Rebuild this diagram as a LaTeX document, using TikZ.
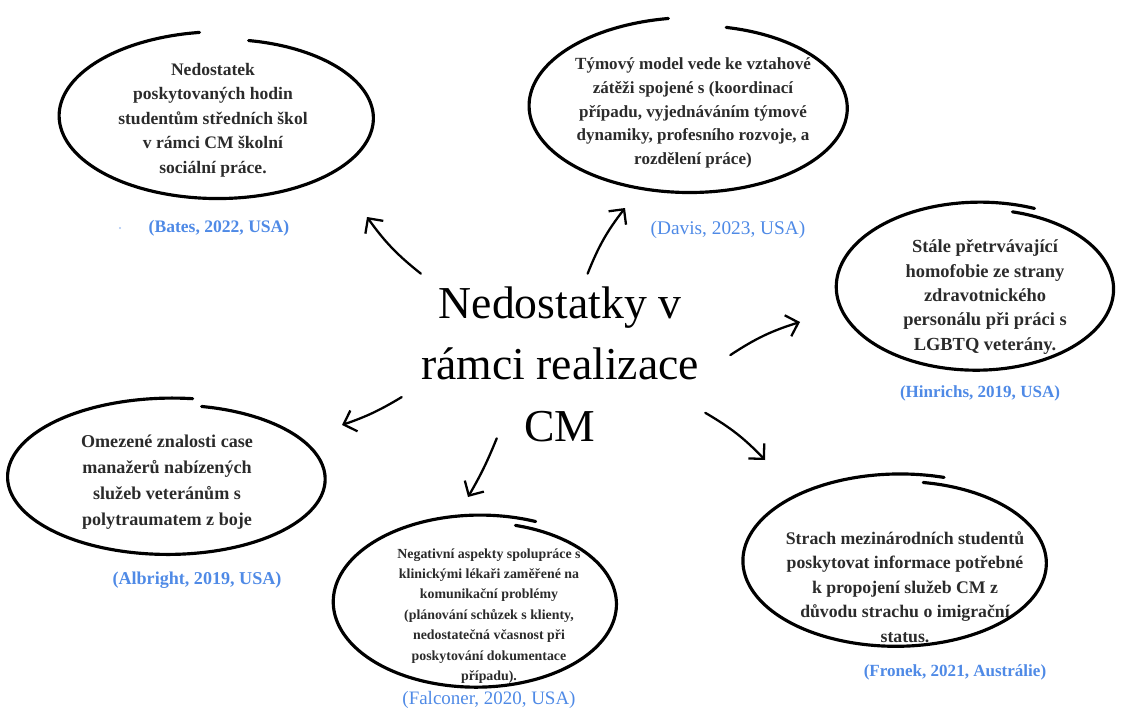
\documentclass[tikz,border=0pt]{standalone}
\usepackage{fontspec}
\setmainfont{Liberation Serif}
\usepackage{xcolor}
\usepackage{tikz}
\usetikzlibrary{arrows.meta, positioning, calc}
\definecolor{notegray}{HTML}{2B2B2B}
\definecolor{citeblue}{HTML}{4F8AE6}

% hand drawn open ellipse: center, rx, ry, start angle, sweep
\newcommand{\handloop}[5]{%
  \draw[sketch, shift={#1}] plot[smooth, samples=90, domain=0:1, variable=\u]
    ({#2*(0.95+0.09*\u)*cos(#4-#5*\u)}, {#3*(0.95+0.09*\u)*sin(#4-#5*\u)});
}

\begin{document}
\begin{tikzpicture}[
    x=0.02cm, y=0.02cm,
    topic/.style={rectangle, minimum width=6.8cm, minimum height=3.6cm, align=center, font=\fontsize{26}{35}\selectfont},
    note/.style={align=center, text=notegray, font=\fontsize{10}{13.9}\selectfont\bfseries},
    cite/.style={text=citeblue, font=\fontsize{10}{12}\selectfont\bfseries},
    citelight/.style={text=citeblue, font=\fontsize{11}{13}\selectfont},
    sketch/.style={line width=1.8pt, line cap=round, color=black},
    arrow/.style={-{Straight Barb[length=2.2mm, width=4.4mm]}, line width=1.3pt, line cap=round}
]
\useasboundingbox (0,0) rectangle (1125,711);

% Central topic
\node[topic] (cm) at (560,347) {Nedostatky v\\rámci realizace\\CM};

% Findings
\node[note] (bates) at (213,591) {Nedostatek\\poskytovaných hodin\\studentům středních škol\\v rámci CM školní\\sociální práce.};
\node[note, font=\fontsize{9.7}{13.6}\selectfont\bfseries] (davis) at (693,598) {Týmový model vede ke vztahové\\zátěži spojené s (koordinací\\případu, vyjednáváním týmové\\dynamiky, profesního rozvoje, a\\rozdělení práce)};
\node[note, font=\fontsize{10.5}{13.9}\selectfont\bfseries] (hinrichs) at (985,414) {Stále přetrvávající\\homofobie ze strany\\zdravotnického\\personálu při práci s\\LGBTQ veterány.};
\node[note, font=\fontsize{10.3}{14.7}\selectfont\bfseries] (albright) at (167,229) {Omezené znalosti case\\manažerů nabízených\\služeb veteránům s\\polytraumatem z boje};
\node[note, font=\fontsize{7.9}{11.6}\selectfont\bfseries] (falconer) at (489,95) {Negativní aspekty spolupráce s\\klinickými lékaři zaměřené na\\komunikační problémy\\(plánování schůzek s klienty,\\nedostatečná včasnost při\\poskytování dokumentace\\případu).};
\node[note, font=\fontsize{10.1}{13.9}\selectfont\bfseries] (fronek) at (905,124) {Strach mezinárodních studentů\\poskytovat informace potřebné\\k propojení služeb CM z\\důvodu strachu o imigrační\\status.};

% Loops round the findings
\handloop{(220,594)}{158}{82}{79}{342}
\handloop{(692,604)}{160}{86}{77}{339}
\handloop{(978,423)}{140}{83}{75}{368}
\handloop{(170,233)}{160}{77}{78}{356}
\handloop{(478,108)}{143}{85}{74}{367}
\handloop{(898,149)}{153}{85}{80}{367}

% Sources
\node[cite] (batesref) at (219,483) {(Bates, 2022, USA)};
\node[citelight] (davisref) at (728,481) {(Davis, 2023, USA)};
\node[cite, font=\fontsize{9.7}{12}\selectfont\bfseries] (hinrichsref) at (980,318) {(Hinrichs, 2019, USA)};
\node[cite, font=\fontsize{10.3}{12}\selectfont\bfseries] (albrightref) at (197,131) {(Albright, 2019, USA)};
\node[citelight, font=\fontsize{10.8}{13}\selectfont] (falconerref) at (489,11) {(Falconer, 2020, USA)};
\node[cite, font=\fontsize{9.7}{12}\selectfont\bfseries] (fronekref) at (955,39) {(Fronek, 2021, Austrálie)};
\fill[citeblue!50] (120,483) circle (1.2);

% Arrow ends
\coordinate (batesin) at (367,494);
\coordinate (davisin) at (625,503);
\coordinate (hinrichsin) at (800,389);
\coordinate (albrightin) at (342,286);
\coordinate (falconerin) at (468,214);
\coordinate (fronekin) at (765,251);

% Arrows
\draw[arrow] (cm.147.6) to[bend left=8] (batesin);
\draw[arrow] (cm.73.3) to[bend left=8] (davisin);
\draw[arrow] (cm.3.7) to[bend left=8] (hinrichsin);
\draw[arrow] ([xshift=0.24cm]cm.191.3) to[bend left=6] (albrightin);
\draw[arrow] ([yshift=0.32cm]cm.235.9) to[bend left=4] (falconerin);
\draw[arrow] ([xshift=-0.5cm]cm.-16) to[bend left=8] (fronekin);

\end{tikzpicture}
\end{document}
